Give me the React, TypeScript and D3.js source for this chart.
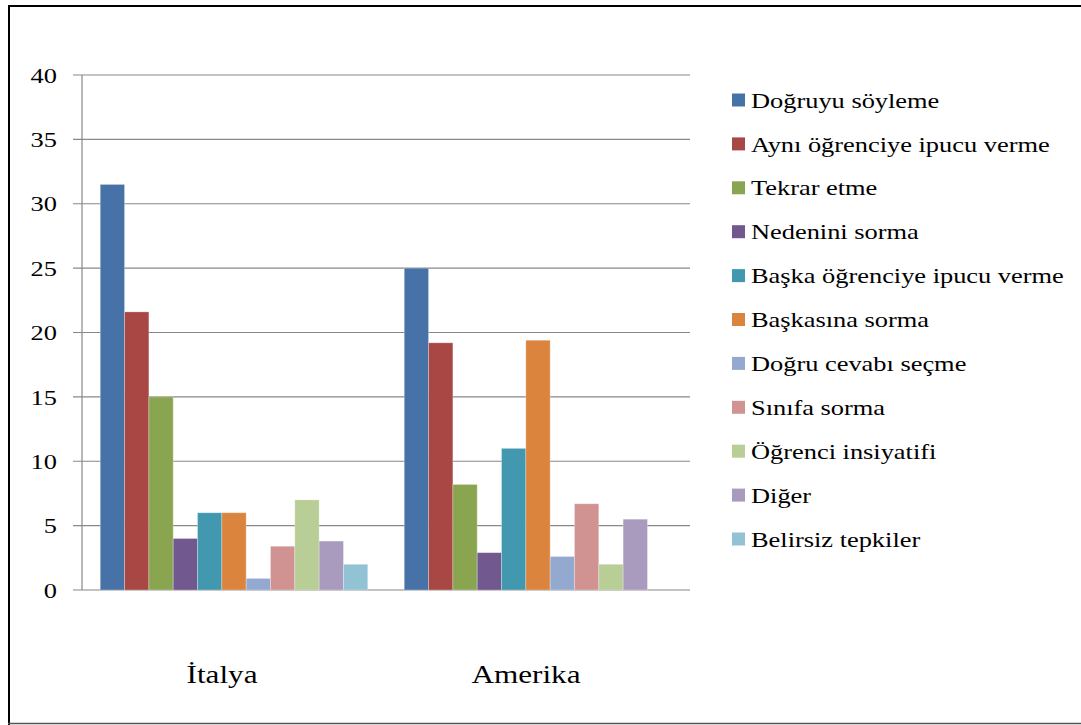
import { FC } from 'react';
import * as d3 from 'd3';

const countries = ['İtalya', 'Amerika'];
const seriesNames = [
  'Doğruyu söyleme',
  'Aynı öğrenciye ipucu verme',
  'Tekrar etme',
  'Nedenini sorma',
  'Başka öğrenciye ipucu verme',
  'Başkasına sorma',
  'Doğru cevabı seçme',
  'Sınıfa sorma',
  'Öğrenci insiyatifi',
  'Diğer',
  'Belirsiz tepkiler',
];
const italyaValues = [31.5, 21.6, 15, 4, 6, 6, 0.9, 3.4, 7, 3.8, 2];
const amerikaValues = [25, 19.2, 8.2, 2.9, 11, 19.4, 2.6, 6.7, 2, 5.5, 0];
const yTicks = [0, 5, 10, 15, 20, 25, 30, 35, 40];

const colors = [
  '#4672a8', '#a94744', '#8aa550', '#71588f', '#4198af', '#db843d',
  '#93a9cf', '#d19392', '#b9cd96', '#a99bbd', '#92c3d4',
];

const W = 1081, H = 725;
const PLOT = { left: 82, right: 690, top: 75, bottom: 590 };
const SX = 1.2; // the picture is a little stretched sideways

const App: FC = () => {
  const table = countries.map((c, i) => ({
    country: c,
    values: i === 0 ? italyaValues : amerikaValues,
  }));

  const x0 = d3.scaleBand<string>()
    .domain(countries)
    .range([PLOT.left, PLOT.right])
    .paddingInner(0.12)
    .paddingOuter(0.06);
  const x1 = d3.scaleBand<number>()
    .domain(d3.range(seriesNames.length))
    .range([0, x0.bandwidth()]);
  const y = d3.scaleLinear().domain([0, 40]).range([PLOT.bottom, PLOT.top]);

  const legendY = d3.scalePoint<string>()
    .domain(seriesNames)
    .range([100, 539]);

  return (
    <div style={{ position: 'fixed', left: 0, top: 0 }}>
      <svg width={W} height={H} style={{ display: 'block', fontFamily: '"Liberation Serif", "Times New Roman", serif' }}>
        <rect x={0} y={0} width={W} height={H} fill="#fff" />
        {/* frame */}
        <line x1={9} x2={9} y1={5} y2={725} stroke="#000" strokeWidth={2} />
        <line x1={8} x2={W} y1={6} y2={6} stroke="#000" strokeWidth={2} />
        <line x1={8} x2={W} y1={723.5} y2={723.5} stroke="#555" strokeWidth={1.5} />

        {/* grid + y axis */}
        {yTicks.map((t) => (
          <g key={t}>
            <line x1={73} x2={PLOT.right} y1={y(t)} y2={y(t)} stroke="#888" strokeWidth={1.2} />
            <text
              transform={`translate(57,${y(t)}) scale(${SX},1)`}
              textAnchor="end"
              dominantBaseline="central"
              fontSize={22}
              fill="#000"
            >
              {t}
            </text>
          </g>
        ))}
        <line x1={PLOT.left} x2={PLOT.left} y1={PLOT.top} y2={PLOT.bottom} stroke="#888" strokeWidth={1.2} />

        {/* bars */}
        {table.map((row) => (
          <g key={row.country} transform={`translate(${x0(row.country)},0)`}>
            {row.values.map((v, i) => (
              <rect
                key={i}
                x={x1(i)}
                y={y(v)}
                width={x1.bandwidth()}
                height={y(0) - y(v)}
                fill={colors[i]}
                stroke="#ffffff"
                strokeOpacity={0.35}
                strokeWidth={0.8}
              />
            ))}
          </g>
        ))}

        {/* category labels */}
        {countries.map((c) => (
          <text
            key={c}
            transform={`translate(${(x0(c) ?? 0) + x0.bandwidth() / 2 - 12},683) scale(${SX},1)`}
            textAnchor="middle"
            fontSize={26}
            fill="#000"
          >
            {c}
          </text>
        ))}

        {/* legend */}
        {seriesNames.map((s, i) => (
          <g key={s} transform={`translate(732,${legendY(s)})`}>
            <rect x={0} y={-6.5} width={13} height={13} fill={colors[i]} />
            <text
              transform={`translate(19,0) scale(${SX},1)`}
              dominantBaseline="central"
              fontSize={22}
              fill="#000"
            >
              {s}
            </text>
          </g>
        ))}
      </svg>
    </div>
  );
};

export default App;
